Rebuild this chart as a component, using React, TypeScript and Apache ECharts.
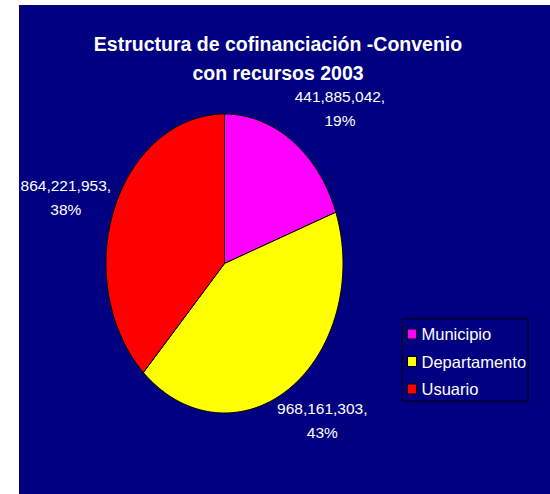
import React, { useEffect, useRef } from "react";
import * as echarts from "echarts";

const categories = ["Municipio", "Departamento", "Usuario"];
const values = [441885042, 968161303, 864221953];
const colors = ["#FF00FF", "#FFFF00", "#FF0000"];
const titleText = "Estructura de cofinanciación -Convenio\ncon recursos 2003";

const FONT = "'Liberation Sans', Arial, sans-serif";
const NAVY = "#000080";

// ellipse geometry (chart coords)
const CX = 205.5;
const CY = 258.5;
const RX = 118.5;
const RY = 149.5;
// label nudges from the slice's mid point on the rim
const LABEL_NUDGE = [
  [47.5, -32.5],
  [32.5, 32.5],
  [-48.5, -10.5],
];

const fmt = (v: number) => v.toString().replace(/\B(?=(\d{3})+(?!\d))/g, ",");

export default function App() {
  const ref = useRef<HTMLDivElement>(null);
  useEffect(() => {
    if (!ref.current) return;
    const chart = echarts.init(ref.current, null, { renderer: "svg" });
    const total = values.reduce((a, b) => a + b, 0);

    const renderItem = (params: any, api: any) => {
      const idx = params.seriesIndex;
      const v = api.value(0);
      let before = 0;
      for (let i = 0; i < idx; i++) before += values[i];
      const a0 = (before / total) * Math.PI * 2;
      const a1 = ((before + v) / total) * Math.PI * 2;
      const pts: number[][] = [[CX, CY]];
      const steps = Math.max(2, Math.ceil(((a1 - a0) * 180) / Math.PI));
      for (let s = 0; s <= steps; s++) {
        const a = a0 + ((a1 - a0) * s) / steps;
        pts.push([CX + RX * Math.sin(a), CY - RY * Math.cos(a)]);
      }
      const am = (a0 + a1) / 2;
      const px = CX + RX * Math.sin(am);
      const py = CY - RY * Math.cos(am);
      const pct = Math.round((v / total) * 100);
      return {
        type: "group",
        children: [
          {
            type: "polygon",
            shape: { points: pts },
            style: { fill: colors[idx], stroke: "#000", lineWidth: 1 },
          },
          {
            type: "text",
            x: px + LABEL_NUDGE[idx][0],
            y: py + LABEL_NUDGE[idx][1],
            style: {
              text: fmt(v) + ",\n" + pct + "%",
              fill: "#fff",
              fontSize: 15.5,
              fontFamily: FONT,
              lineHeight: 24,
              align: "center",
              verticalAlign: "middle",
            },
          },
        ],
      };
    };

    chart.setOption({
      animation: false,
      backgroundColor: NAVY,
      color: colors,
      title: {
        text: titleText,
        left: 254,
        top: 19,
        textAlign: "center",
        textStyle: {
          color: "#fff",
          fontSize: 19.5,
          fontWeight: "bold",
          fontFamily: FONT,
          lineHeight: 29,
        },
      },
      legend: {
        orient: "vertical",
        left: 383,
        top: 314,
        data: categories,
        icon: "rect",
        itemWidth: 9,
        itemHeight: 10,
        itemGap: 9.5,
        padding: [6, 2, 3, 5],
        borderColor: "#000",
        borderWidth: 1,
        itemStyle: { borderColor: "#000", borderWidth: 1 },
        textStyle: { color: "#fff", fontSize: 16.5, fontFamily: FONT, lineHeight: 18 },
        selectedMode: false,
      },
      series: categories.map((name, i) => ({
        type: "custom",
        name,
        coordinateSystem: "none",
        itemStyle: { color: colors[i] },
        data: [[values[i]]],
        renderItem,
      })),
    });
    return () => chart.dispose();
  }, []);

  return (
    <div style={{ position: "fixed", left: 0, top: 0, width: 550, height: 494, background: "#fff" }}>
      <div ref={ref} style={{ position: "absolute", left: 19, top: 5, width: 531, height: 489 }} />
    </div>
  );
}
